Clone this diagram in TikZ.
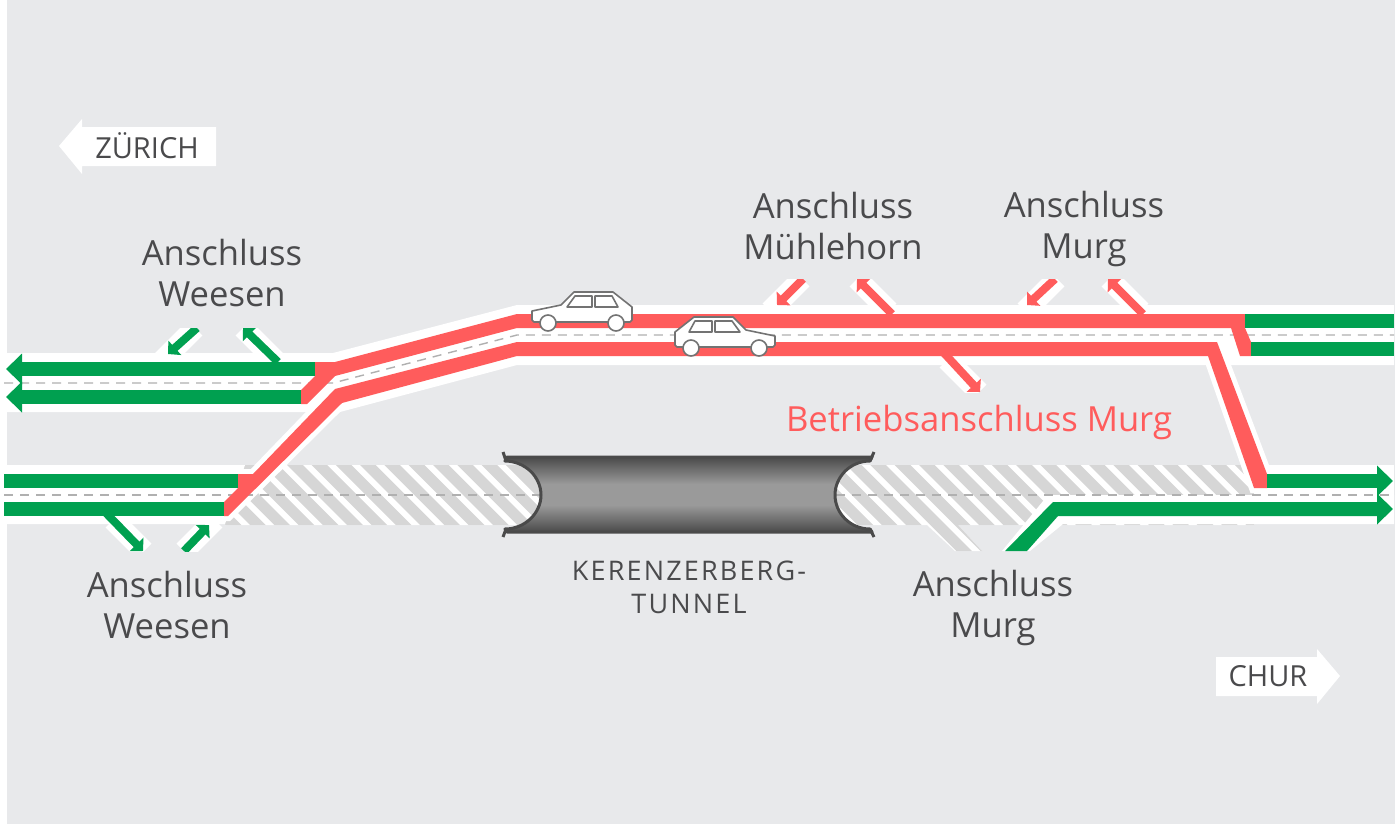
\documentclass[tikz,border=0pt]{standalone}
\usepackage{fontspec}
\setmainfont{Open Sans}
\usetikzlibrary{arrows.meta}
\definecolor{bggrey}{HTML}{E8E9EB}
\definecolor{lanegreen}{HTML}{00A050}
\definecolor{lanered}{HTML}{FF5C5C}
\definecolor{hatchgrey}{HTML}{D6D6D6}
\definecolor{dashgrey}{HTML}{B0B0B0}
\definecolor{textgrey}{HTML}{4A4A4C}
\definecolor{tunneldark}{HTML}{4A4A4A}
\definecolor{tunnelmid}{HTML}{9A9A9A}
\pgfdeclareverticalshading{tunnelshade}{100bp}{color(0bp)=(tunneldark); color(25bp)=(tunneldark); color(43bp)=(tunnelmid); color(57bp)=(tunnelmid); color(75bp)=(tunneldark); color(100bp)=(tunneldark)}
\newcommand{\redlower}{(238,474) -- (253,474) -- (335,389) -- (517,342) -- (1217,342) -- (1267,474) -- (1267,488) -- (1254,488)
    -- (1208,356) -- (517,356) -- (342,403) -- (228,516) -- (224,516) -- (224,502) -- (238,488) -- cycle}
\newcommand{\redupper}{(315,362) -- (335,362) -- (517,314) -- (1245,314) -- (1245,328) -- (1251,342) -- (1251,356) -- (1240,356)
    -- (1231,328) -- (517,328) -- (335,376) -- (333,378) -- (307,404) -- (301,404) -- (301,390) -- (315,376) -- cycle}
\tikzset{
  x=0.5pt, y=-0.5pt,
  label/.style={text=textgrey, font=\fontsize{17.3}{20.5}\selectfont, align=center, inner sep=0pt},
  citylabel/.style={text=textgrey, font=\fontsize{14.5}{16}\selectfont, inner sep=0pt},
  lane/.style={line width=7pt},
  wing/.style={line width=10.5pt, white},
  rampgreen/.style={line width=4pt, lanegreen, -{Triangle[length=4.6pt,width=9.4pt]}},
  rampred/.style={line width=4pt, lanered, -{Triangle[length=4.6pt,width=9.4pt]}},
  laneend/.style={-{Triangle[length=8pt,width=15pt]}},
  middash/.style={dashgrey, line width=0.7pt, dash pattern=on 4.5pt off 3.5pt},
  hatchline/.style={hatchgrey, line width=5.5pt},
  carline/.style={draw=black!55, line width=0.8pt, fill=white, line join=round},
  pics/car/.style={code={
    \path[carline] (-50,0) -- (-21,-6) -- (-8,-19) -- (31,-19) -- (50,-4) -- (50,9) -- (48,11) -- (-48,11) -- (-50,9) -- cycle;
    \path[carline] (-15,-4) -- (-7,-15) -- (10,-15) -- (10,-4) -- cycle;
    \path[carline] (13,-15) -- (30,-15) -- (36,-4) -- (13,-4) -- cycle;
    \path[carline] (-34,12) circle (8);
    \path[carline] (34,12) circle (8);
  }}
}
\begin{document}
\begin{tikzpicture}
  \useasboundingbox (0,0) rectangle (1400,824);
  % Ground
  \fill[white] (0,0) rectangle (1400,824);
  \fill[bggrey] (7,0) rectangle (1395,824);

  % Hatched old road
  \begin{scope}
    \clip (225,465) -- (541,465) -- (541,525) -- (225,525) -- cycle
      (836,465) -- (1254,465) -- (1254,525) -- (958,525) -- (982,551) -- (955,551) -- (927,525) -- (836,525) -- cycle;
    \fill[white] (200,460) rectangle (1260,560);
    \foreach \hx in {-6,-5,...,40} {
      \draw[hatchline] ({295+\hx*24.3-25},440) -- ({295+\hx*24.3+95},560);
    }
  \end{scope}

  % White road bands
  \fill[white] (4,353) -- (333,353) -- (517,305) -- (1394,305) -- (1394,365) -- (517,365) -- (340,412) -- (4,412) -- cycle;
  \fill[white] (1254,465) rectangle (1394,524);
  \fill[white] (4,465) -- (245,465) -- (225,524) -- (4,524) -- cycle;
  \fill[white] (1048,495) -- (1394,495) -- (1394,524) -- (1063,524) -- (1030,551) -- (1002,551) -- cycle;

  % Ramp wings
  \begin{scope}
    \clip (0,328) rectangle (1400,360);
    \draw[wing] (195,328) -- (162,361);
    \draw[wing] (243,328) -- (276,361);
  \end{scope}
  \begin{scope}
    \clip (0,279) rectangle (1400,310);
    \draw[wing] (802,279) -- (770,311);
    \draw[wing] (857,279) -- (889,311);
    \draw[wing] (1057,279) -- (1025,311);
    \draw[wing] (1109,279) -- (1141,311);
  \end{scope}
  \begin{scope}
    \clip (0,360) rectangle (1400,392);
    \draw[wing] (947,360) -- (979,392);
  \end{scope}
  \begin{scope}
    \clip (0,520) rectangle (1400,551);
    \draw[wing] (113,520) -- (144,551);
    \draw[wing] (184,551) -- (215,520);
  \end{scope}

  % Red lanes, white edge first
  \path[draw=white, line width=5pt, line join=miter] \redlower;
  \path[draw=white, line width=7pt, line join=miter] \redupper;

  % Centre dashes
  \draw[middash] (4,383) -- (333,383) -- (517,335) -- (1394,335);
  \draw[middash] (4,495) -- (1394,495);

  % Tunnel
  \path[shading=tunnelshade, draw=tunneldark, line width=1.5pt, line join=round]
    (507,457) -- (872,457) -- (870,461) .. controls (850,461) and (835,477) .. (835,495)
    .. controls (835,513) and (850,529) .. (870,529) -- (872,532) -- (507,532)
    -- (505,529) .. controls (525,529) and (541,513) .. (541,495)
    .. controls (541,477) and (525,461) .. (505,461) -- cycle;
  \draw[tunneldark, line width=1.5pt] (503,452) -- (506,461) (874,452) -- (870,461) (503,537) -- (506,529) (874,537) -- (870,529);

  % Red lanes
  \fill[lanered] \redlower;
  \fill[lanered] \redupper;

  % Green lanes
  \draw[lane, lanegreen, laneend] (315,369) -- (6,369);
  \draw[lane, lanegreen, laneend] (301,397) -- (6,397);
  \draw[lane, lanegreen] (238,481) -- (4,481);
  \draw[lane, lanegreen] (224,509) -- (4,509);
  \draw[lane, lanegreen] (1245,321) -- (1394,321);
  \draw[lane, lanegreen] (1251,349) -- (1394,349);
  \draw[lane, lanegreen, laneend] (1267,481) -- (1393,481);
  \fill[lanegreen] (1005,551) -- (1053,502) -- (1378,502) -- (1378,516) -- (1058,516) -- (1027,551) -- cycle;
  \draw[lane, lanegreen, laneend] (1370,509) -- (1393,509);

  % Ramp arrows
  \begin{scope}
    \clip (0,328) rectangle (1400,370);
    \draw[rampgreen] (197,328) -- (168,354);
    \draw[rampgreen] (278,362) -- (243,328);
  \end{scope}
  \begin{scope}
    \clip (0,279) rectangle (1400,320);
    \draw[rampred] (803,279) -- (777,305);
    \draw[rampred] (892,314) -- (857,279);
    \draw[rampred] (1055,279) -- (1027,305);
    \draw[rampred] (1143,314) -- (1108,279);
  \end{scope}
  \begin{scope}
    \clip (0,350) rectangle (1400,392);
    \draw[rampred] (943,352) -- (980,392);
  \end{scope}
  \begin{scope}
    \clip (0,510) rectangle (1400,551);
    \draw[rampgreen] (105,512) -- (143,551);
    \draw[rampgreen] (184,551) -- (209,525);
  \end{scope}

  % Cars
  \pic at (582,311) {car};
  \pic[xscale=-1] at (725,336) {car};

  % City arrows
  \path[fill=white] (216,127) -- (82,127) -- (82,119) -- (59,146) -- (82,174) -- (82,166) -- (216,166) -- cycle;
  \path[fill=white] (1216,657) -- (1317,657) -- (1317,649) -- (1340,676) -- (1317,704) -- (1317,696) -- (1216,696) -- cycle;
  \node[citylabel] (zurich) at (147,146) {ZÜRICH};
  \node[citylabel] (chur) at (1268,676) {CHUR};

  % Labels
  \node[label] (weesentop) at (222,273) {Anschluss\\Weesen};
  \node[label] (muehlehorn) at (833,226) {Anschluss\\Mühlehorn};
  \node[label] (murgtop) at (1084,229) {Anschluss\\Murg};
  \node[label] (weesenlow) at (167,605) {Anschluss\\Weesen};
  \node[label] (murglow) at (993,608) {Anschluss\\Murg};
  \node[label, text=lanered] (betrieb) at (979,423) {Betriebsanschluss Murg};
  \node[citylabel, align=center, font=\fontsize{13.5}{16.5}\selectfont] (tunnel) at (689,587) {\addfontfeature{LetterSpace=8}KERENZERBERG-\\\addfontfeature{LetterSpace=8}TUNNEL};
\end{tikzpicture}
\end{document}
